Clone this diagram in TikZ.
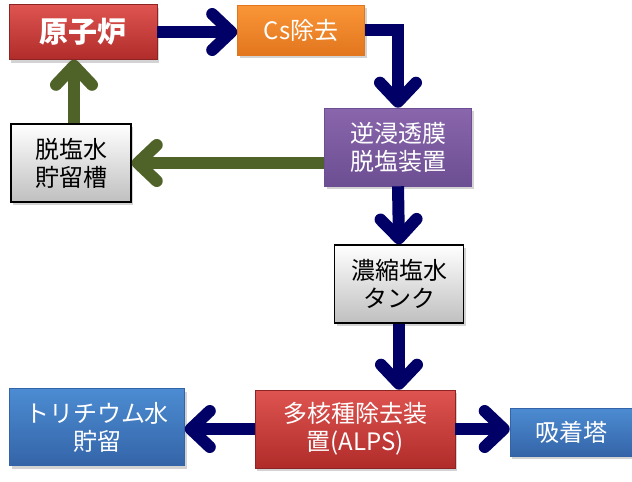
\documentclass[tikz,border=0pt]{standalone}
\usepackage{fontspec}
\setmainfont{Noto Sans CJK JP}
\usetikzlibrary{arrows.meta,shadows}

%% colours
\definecolor{navyflow}{RGB}{0,0,102}
\definecolor{oliveflow}{RGB}{79,98,40}
\definecolor{redtop}{RGB}{222,84,80}
\definecolor{redbot}{RGB}{176,44,42}
\definecolor{orangetop}{RGB}{250,150,55}
\definecolor{orangebot}{RGB}{226,118,30}
\definecolor{purpletop}{RGB}{138,102,172}
\definecolor{purplebot}{RGB}{108,78,146}
\definecolor{bluetop}{RGB}{76,140,210}
\definecolor{bluebot}{RGB}{52,100,168}

\tikzset{
  unit/.style={align=center, text=white, inner sep=2pt,
    font=\fontsize{24}{28}\selectfont,
    drop shadow={shadow xshift=2pt, shadow yshift=-3pt, opacity=0.35}},
  redunit/.style={unit, top color=redtop, bottom color=redbot, draw=redbot!80!black, line width=0.6pt},
  orangeunit/.style={unit, top color=orangetop, bottom color=orangebot, draw=orangebot, line width=0.6pt},
  purpleunit/.style={unit, top color=purpletop, bottom color=purplebot, draw=purplebot, line width=0.6pt},
  blueunit/.style={unit, top color=bluetop, bottom color=bluebot, draw=bluebot, line width=0.6pt},
  grayunit/.style={unit, text=black, top color=white, bottom color=black!25, draw=black, line width=1.5pt},
  flow/.style={line width=12pt, -{Straight Barb[round, length=19pt, width=36pt]}},
}

\begin{document}
\begin{tikzpicture}[x=1pt,y=-1pt]
\useasboundingbox (0,0) rectangle (632,482);

%% units
\node[redunit, minimum width=148pt, minimum height=55pt, font=\fontsize{29}{32}\selectfont\bfseries] (reactor) at (83,32) {原子炉};
\node[orangeunit, minimum width=127pt, minimum height=50pt] (cs) at (301,30) {Cs除去};
\node[grayunit, minimum width=120pt, minimum height=78pt] (store) at (71,163) {脱塩水\\貯留槽};
\node[purpleunit, minimum width=147pt, minimum height=78pt] (ro) at (398,147) {逆浸透膜\\脱塩装置};
\node[grayunit, minimum width=129pt, minimum height=78pt] (brine) at (399,284) {濃縮塩水\\タンク};
\node[redunit, minimum width=200pt, minimum height=78pt] (alps) at (355,429) {多核種除去装\\置(ALPS)};
\node[blueunit, minimum width=175pt, minimum height=77pt] (tritium) at (97,427) {トリチウム水\\貯留};
\node[blueunit, minimum width=122pt, minimum height=48pt] (tower) at (571,432) {吸着塔};

%% flows
\draw[flow, navyflow] (reactor.east) -- (reactor.east -| cs.west);
\draw[flow, navyflow] (cs.east) -| (ro.north);
\draw[flow, oliveflow] (ro.west |- store.east) -- (store.east);
\draw[flow, oliveflow] (74,0 |- store.north) -- (74,0 |- reactor.south);
\draw[flow, navyflow] (ro.south) -- (brine.north);
\draw[flow, navyflow] (brine.south) -- (brine.south |- alps.north);
\draw[flow, navyflow] (alps.west) -- (alps.west -| tritium.east);
\draw[flow, navyflow] (alps.east) -- (alps.east -| tower.west);
\end{tikzpicture}
\end{document}
